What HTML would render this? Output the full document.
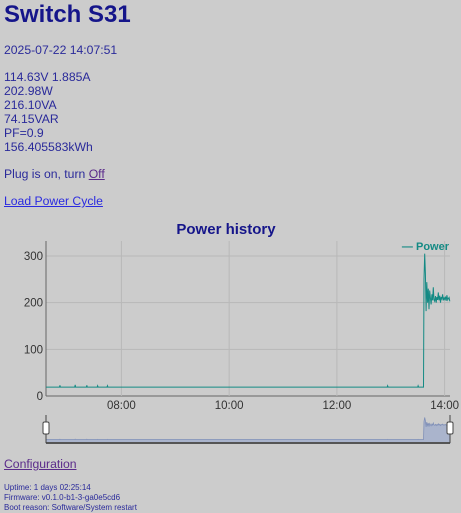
<!DOCTYPE html>
<html><head><meta charset="utf-8"><style>
body{margin:0;background:#cccccc;font-family:"Liberation Sans",sans-serif;color:#2a2a9a;width:461px;height:513px;overflow:hidden;position:relative}
.t{position:absolute;left:4px;font-size:12.2px;line-height:14px;white-space:nowrap}
h1{position:absolute;left:4px;top:1px;margin:0;font-size:24px;color:#15158a;font-weight:bold}
a{color:#5a2a8a}
.blue{color:#2a2ae0}
.sm{font-size:8px;line-height:10px}
</style></head><body>
<h1>Switch S31</h1>
<div class="t" style="top:43px">2025-07-22 14:07:51</div>
<div class="t" style="top:70px">114.63V 1.885A<br>202.98W<br>216.10VA<br>74.15VAR<br>PF=0.9<br>156.405583kWh</div>
<div class="t" style="top:167px">Plug is on, turn <a href="#">Off</a></div>
<div class="t" style="top:194px"><a href="#" class="blue">Load Power Cycle</a></div>
<svg id="ch" width="461" height="240" style="position:absolute;left:0;top:215px"></svg>
<div class="t" style="top:457px"><a href="#">Configuration</a></div>
<div class="t sm" style="top:483px">Uptime: 1 days 02:25:14</div>
<div class="t sm" style="top:493px">Firmware: v0.1.0-b1-3-ga0e5cd6</div>
<div class="t sm" style="top:503px">Boot reason: Software/System restart</div>
<script>
const xTickLabels=["08:00","10:00","12:00","14:00"];
const xTickMinutes=[480,600,720,840];
const yTicks=[0,100,200,300];
const times=[396,411,411.5,412,428,428.5,429,441,441.5,442,453,453.5,454,464,464.5,465,600,700,776,776.5,777,810,810.5,811,816.5,
 817,817.8,818.6,819.4,820.2,821,821.8,822.6,823.4,824.2,825,825.8,826.6,827.4,828.2,829,829.8,830.6,831.4,832.2,833,833.8,834.6,835.4,836.2,837,837.8,838.6,839.4,840.2,841,841.8,842.6,843.4,844.2,845,845.8];
const power=[19,19,23,19,19,24,19,19,23,19,19,22,19,19,22,19,19,19,19,22,19,19,22,19,19,
 250,305,262,182,244,200,230,186,226,210,196,218,205,233,206,203,214,200,212,206,222,205,215,200,212,208,218,205,210,207,213,204,216,206,209,211,203];
const t0=396,t1=846;
const svg=document.getElementById('ch');const NS='http://www.w3.org/2000/svg';
const L=46,R=450,T=26,B=181;
const x=m=>L+(m-t0)*(R-L)/(t1-t0);
const y=v=>B-v*(140/300);
function mk(tag,a,txt){const e=document.createElementNS(NS,tag);for(const k in a)e.setAttribute(k,a[k]);if(txt!=null)e.textContent=txt;svg.appendChild(e);return e;}
let e=mk('text',{x:226,y:19,'text-anchor':'middle','font-size':15,'font-weight':'bold',fill:'#15158a','font-family':'Liberation Sans'},'Power history');


yTicks.forEach(v=>{
 const g=mk('line',{x1:L,x2:R,y1:y(v),y2:y(v),stroke:v?'#b8b8b8':'#666','stroke-width':1});
 
 
 const t=mk('text',{x:L-3,y:y(v)+4,'text-anchor':'end','font-size':11.5,fill:'#333','font-family':'Liberation Sans'},v);
 
 
});
xTickMinutes.forEach((m,i)=>{
 const g=mk('line',{x1:x(m),x2:x(m),y1:T,y2:B,stroke:'#b8b8b8','stroke-width':1});
 
 
 const t=mk('text',{x:x(m),y:B+13,'text-anchor':'middle','font-size':11.5,fill:'#333','font-family':'Liberation Sans'},xTickLabels[i]);
 
 
});
let ax=mk('line',{x1:L,x2:L,y1:T,y2:B,stroke:'#666'});


let pts=times.map((t,i)=>[x(t),y(power[i])]);
let d='M'+pts.map(p=>p[0].toFixed(1)+','+p[1].toFixed(1)).join('L');
let ln=mk('path',{d:d,fill:'none',stroke:'#148a84','stroke-width':1});


let lg=mk('text',{x:449,y:35,'text-anchor':'end','font-size':11,'font-weight':'bold',fill:'#148a84','font-family':'Liberation Sans'},'— Power');


const NT=200,NB=228;
const ny=v=>NB-2-v*(24/310);
let nd='M'+L+','+NB+'L'+pts.map((p,i)=>p[0].toFixed(1)+','+ny(power[i]).toFixed(1)).join('L')+'L'+R+','+NB+'Z';
let na=mk('path',{d:nd,fill:'#aab4cc',stroke:'#8090b8','stroke-width':0.8});


let nb=mk('line',{x1:L,x2:R,y1:NB,y2:NB,stroke:'#555','stroke-width':2});


[L,R].forEach(hx=>{
 const l=mk('line',{x1:hx,x2:hx,y1:NT,y2:NB,stroke:'#444'});
 
 
 const h=mk('rect',{x:hx-3,y:NT+7,width:6,height:12,rx:1.5,fill:'#fff',stroke:'#444'});
 
 
});
</script>
</body></html>
